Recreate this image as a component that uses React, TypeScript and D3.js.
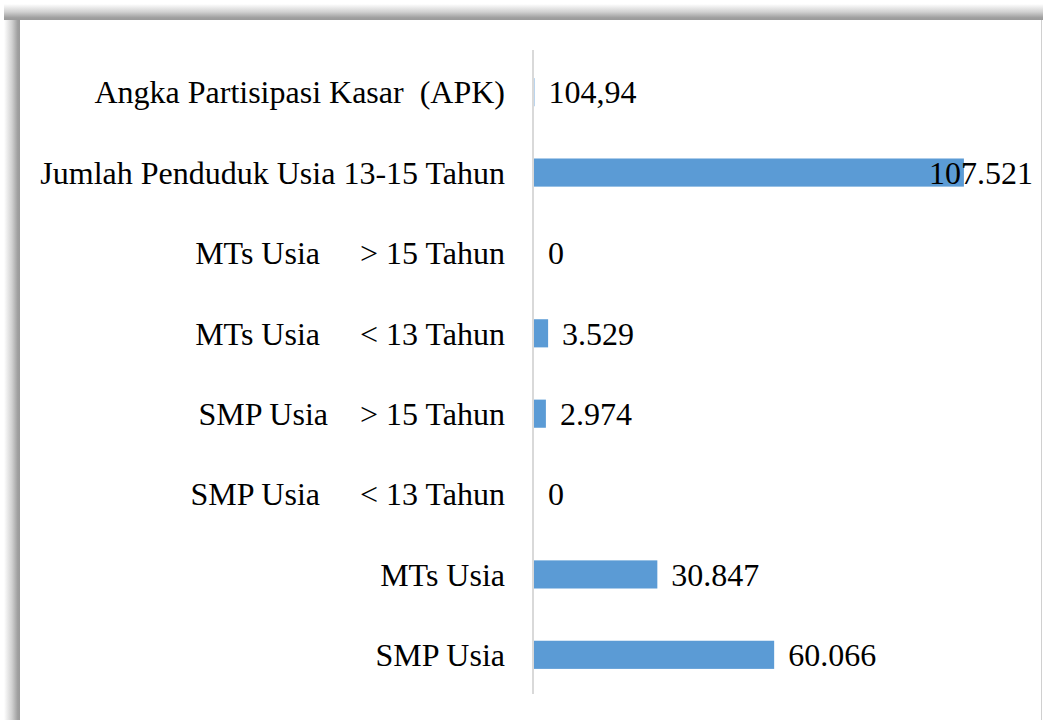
import React from "react";
import * as d3 from "d3";

const categories = [
  "Angka Partisipasi Kasar  (APK)",
  "Jumlah Penduduk Usia 13-15 Tahun",
  "MTs Usia     > 15 Tahun",
  "MTs Usia     < 13 Tahun",
  "SMP Usia    > 15 Tahun",
  "SMP Usia     < 13 Tahun",
  "MTs Usia",
  "SMP Usia",
];
const values = [104.94, 107521, 0, 3529, 2974, 0, 30847, 60066];
const xDomainMax = 120000;

const W = 1043;
const H = 720;
const FONT = '"Liberation Serif", serif';

const locale = d3.formatLocale({
  decimal: ",",
  thousands: ".",
  grouping: [3],
  currency: ["", ""],
});
const fmtInt = locale.format(",");
const fmtDec = locale.format(",.2f");
const fmt = (v: number) => (Number.isInteger(v) ? fmtInt(v) : fmtDec(v));

export default function App() {
  const x = d3.scaleLinear().domain([0, xDomainMax]).range([534, 1013.8]);
  const y = d3
    .scaleBand<string>()
    .domain(categories)
    .range([52, 695])
    .paddingInner(0.65)
    .paddingOuter(0.325);
  const labelRight = 1033;
  const fontSize = 32;
  const charW = fontSize * 0.47;

  return (
    <div style={{ position: "absolute", left: 0, top: 0 }}>
      <svg width={W} height={H} style={{ display: "block" }}>
        <defs>
          <linearGradient id="shL" x1="0" x2="1" y1="0" y2="0">
            <stop offset="0" stopColor="#ffffff" />
            <stop offset="0.5" stopColor="#d0d0d0" />
            <stop offset="0.85" stopColor="#a0a0a0" />
            <stop offset="1" stopColor="#9a9a9a" />
          </linearGradient>
          <linearGradient id="shT" x1="0" x2="0" y1="0" y2="1">
            <stop offset="0" stopColor="#ffffff" />
            <stop offset="0.5" stopColor="#d0d0d0" />
            <stop offset="0.85" stopColor="#a0a0a0" />
            <stop offset="1" stopColor="#9a9a9a" />
          </linearGradient>
        </defs>
        <rect x={0} y={0} width={W} height={H} fill="#ffffff" />
        <rect x={4} y={4} width={16} height={H} fill="url(#shL)" />
        <rect x={4} y={4} width={W} height={16} fill="url(#shT)" />
        <rect x={20} y={20} width={W - 20} height={H} fill="#ffffff" />
        <line x1={1041.5} x2={1041.5} y1={20} y2={H} stroke="#d0d0d0" strokeWidth={1} />

        <line x1={533} x2={533} y1={50} y2={694} stroke="#d9d9d9" strokeWidth={2} />

        {categories.map((c, i) => {
          const v = values[i];
          const yc = (y(c) as number) + y.bandwidth() / 2;
          const xe = x(v);
          const txt = fmt(v);
          const estW = txt.length * charW;
          let lx = xe + 14;
          let anchor: "start" | "end" = "start";
          if (lx + estW > labelRight) {
            lx = labelRight;
            anchor = "end";
          }
          return (
            <g key={c}>
              <rect
                x={x(0)}
                y={y(c)}
                width={Math.max(0, xe - x(0))}
                height={y.bandwidth()}
                fill="#5b9bd5"
              />
              <text
                x={505}
                y={yc}
                dy="0.35em"
                textAnchor="end"
                style={{ whiteSpace: "pre", fontFamily: FONT, fontSize }}
                fill="#000"
              >
                {c}
              </text>
              <text
                x={lx}
                y={yc}
                dy="0.35em"
                textAnchor={anchor}
                style={{ fontFamily: FONT, fontSize }}
                fill="#000"
              >
                {txt}
              </text>
            </g>
          );
        })}
      </svg>
    </div>
  );
}
